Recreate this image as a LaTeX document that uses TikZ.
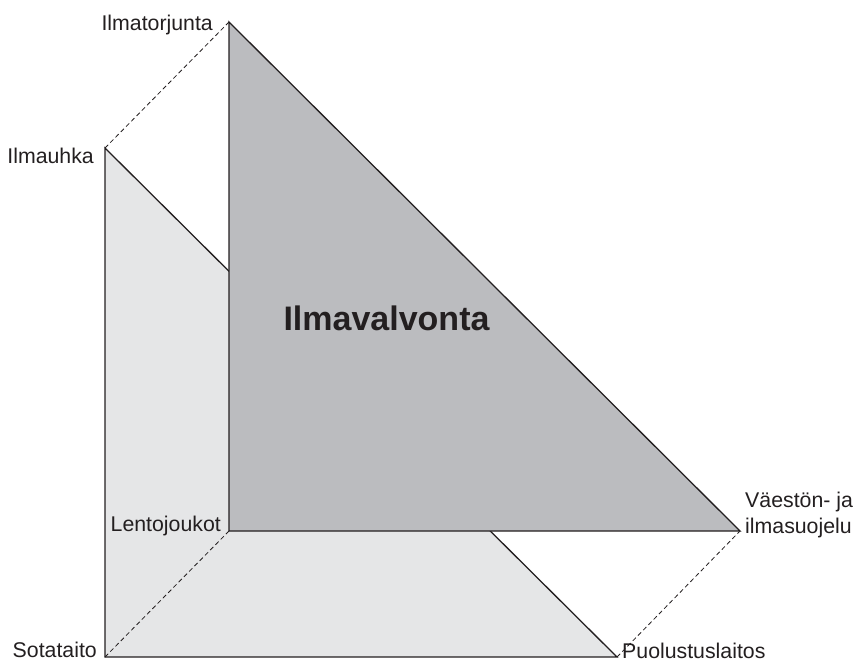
\documentclass[tikz,border=0pt]{standalone}
\usepackage{fontspec}
\setmainfont{Liberation Sans}
\usepackage{xcolor}
\usetikzlibrary{positioning}
\definecolor{backgray}{RGB}{229,230,231}
\definecolor{frontgray}{RGB}{187,188,191}
\definecolor{inkblack}{RGB}{35,31,32}
\tikzset{
  vlabel/.style={inner sep=0pt, text=inkblack, font=\fontsize{21.3}{26}\selectfont},
  edgeline/.style={draw=inkblack, line width=1.3pt},
  hidden/.style={draw=inkblack, line width=0.8pt, dash pattern=on 4.5pt off 3pt}
}

\begin{document}
\begin{tikzpicture}[x=1pt,y=-1pt]
            \useasboundingbox (0,0) rectangle (857,664);
            \coordinate (uhka) at (105,148);
            \coordinate (sota) at (105,657);
            \coordinate (puol) at (617,657);
            \coordinate (torj) at (229,22);
            \coordinate (lento) at (229,531);
            \coordinate (vaest) at (740,531);

            \filldraw[edgeline, fill=backgray] (uhka) -- (sota) -- (puol) -- cycle;
            \draw[hidden] (uhka) -- (torj);
            \draw[hidden] (sota) -- (lento);
            \draw[hidden] (puol) -- (vaest);
            \filldraw[edgeline, fill=frontgray] (torj) -- (lento) -- (vaest) -- cycle;

            \node[vlabel, anchor=base east] (ltorj) at (213,30){Ilmatorjunta};
            \node[vlabel, anchor=base east] (luhka) at (94,163){Ilmauhka};
            \node[vlabel, anchor=base east] (lsota) at (97,657){Sotataito};
            \node[vlabel, anchor=base east] (llento) at (221,531){Lentojoukot};
            \node[vlabel, anchor=base west, align=left] (lvaest) at (745,533){Väestön- ja\\ilmasuojelu};
            \node[vlabel, anchor=base west] (lpuol) at (622,658){Puolustuslaitos};
            \node[vlabel, anchor=base, font=\fontsize{34}{40}\selectfont\bfseries] (title) at (386.5,330){Ilmavalvonta};
\end{tikzpicture}
\end{document}
